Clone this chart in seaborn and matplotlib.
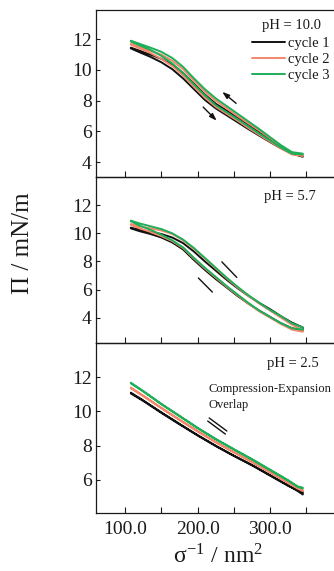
import matplotlib
matplotlib.use("Agg")
import matplotlib.pyplot as plt
from matplotlib.lines import Line2D
import seaborn as sns
import pandas as pd

sns.set_theme(style="ticks")
plt.rcParams['font.family'] = ['Liberation Serif', 'DejaVu Serif']
plt.rcParams['mathtext.fontset'] = 'stix'

cycles = ["cycle 1", "cycle 2", "cycle 3"]
colors = ["#111111", "#f4866a", "#1fae5a"]

# ---- pH 10.0 ----
x_a = [108, 120, 135, 150, 165, 180, 195, 210, 225, 240, 255, 270, 285, 300, 315, 330, 345]
a_c1_exp = [11.40, 11.15, 10.85, 10.50, 10.05, 9.45, 8.75, 8.05, 7.50, 7.05, 6.60, 6.15, 5.72, 5.30, 4.90, 4.55, 4.35]
a_c1_cmp = [11.45, 11.25, 11.00, 10.72, 10.35, 9.80, 9.10, 8.40, 7.80, 7.35, 6.90, 6.45, 5.95, 5.45, 4.95, 4.55, 4.40]
a_c2_exp = [11.65, 11.40, 11.10, 10.72, 10.25, 9.65, 8.90, 8.20, 7.60, 7.15, 6.70, 6.22, 5.77, 5.33, 4.90, 4.50, 4.40]
a_c2_cmp = [11.70, 11.50, 11.25, 11.00, 10.60, 10.05, 9.30, 8.60, 8.00, 7.50, 7.00, 6.52, 6.05, 5.55, 5.05, 4.60, 4.45]
a_c3_exp = [11.85, 11.60, 11.30, 10.92, 10.42, 9.80, 9.05, 8.35, 7.70, 7.25, 6.80, 6.32, 5.85, 5.40, 4.95, 4.55, 4.50]
a_c3_cmp = [11.90, 11.70, 11.45, 11.18, 10.78, 10.20, 9.45, 8.75, 8.15, 7.65, 7.15, 6.65, 6.15, 5.62, 5.10, 4.65, 4.55]

# ---- pH 5.7 ----
x_b = [108, 120, 135, 150, 165, 180, 195, 210, 225, 240, 255, 270, 285, 300, 315, 330, 345]
b_c1_exp = [10.35, 10.15, 9.95, 9.70, 9.35, 8.85, 8.10, 7.40, 6.75, 6.15, 5.55, 5.00, 4.50, 4.05, 3.60, 3.25, 3.10]
b_c1_cmp = [10.40, 10.25, 10.10, 9.95, 9.70, 9.30, 8.70, 8.00, 7.35, 6.70, 6.10, 5.55, 5.05, 4.60, 4.10, 3.65, 3.30]
b_c2_exp = [10.60, 10.35, 10.10, 9.80, 9.45, 8.95, 8.20, 7.50, 6.85, 6.20, 5.60, 5.00, 4.45, 4.00, 3.55, 3.15, 3.00]
b_c2_cmp = [10.65, 10.50, 10.35, 10.20, 9.95, 9.50, 8.90, 8.20, 7.50, 6.80, 6.15, 5.55, 5.00, 4.50, 4.00, 3.50, 3.10]
b_c3_exp = [10.85, 10.55, 10.25, 9.90, 9.50, 9.00, 8.25, 7.55, 6.90, 6.25, 5.65, 5.05, 4.50, 4.05, 3.60, 3.25, 3.15]
b_c3_cmp = [10.90, 10.70, 10.50, 10.30, 10.00, 9.55, 8.95, 8.25, 7.55, 6.85, 6.20, 5.60, 5.05, 4.55, 4.10, 3.60, 3.30]

# ---- pH 2.5 ----
x_c = [108, 125, 150, 175, 200, 225, 250, 275, 300, 325, 338, 345]
c_c1_exp = [11.10, 10.65, 9.95, 9.28, 8.62, 8.00, 7.42, 6.88, 6.28, 5.68, 5.35, 5.15]
c_c1_cmp = [11.05, 10.62, 9.92, 9.25, 8.60, 7.98, 7.40, 6.85, 6.25, 5.65, 5.40, 5.30]
c_c2_exp = [11.40, 10.93, 10.22, 9.53, 8.86, 8.22, 7.63, 7.07, 6.46, 5.85, 5.50, 5.35]
c_c2_cmp = [11.35, 10.90, 10.19, 9.50, 8.83, 8.20, 7.60, 7.04, 6.43, 5.82, 5.52, 5.40]
c_c3_exp = [11.68, 11.20, 10.45, 9.75, 9.05, 8.40, 7.80, 7.22, 6.60, 5.98, 5.60, 5.50]
c_c3_cmp = [11.64, 11.17, 10.42, 9.72, 9.02, 8.37, 7.77, 7.19, 6.57, 5.95, 5.62, 5.55]

panels = [
    ("pH = 10.0", x_a, [(a_c1_exp, a_c1_cmp), (a_c2_exp, a_c2_cmp), (a_c3_exp, a_c3_cmp)]),
    ("pH = 5.7", x_b, [(b_c1_exp, b_c1_cmp), (b_c2_exp, b_c2_cmp), (b_c3_exp, b_c3_cmp)]),
    ("pH = 2.5", x_c, [(c_c1_exp, c_c1_cmp), (c_c2_exp, c_c2_cmp), (c_c3_exp, c_c3_cmp)]),
]
ylims = [(3.03, 13.9), (2.2, 14.0), (4.07, 14.0)]
yticks = [[4, 6, 8, 10, 12], [4, 6, 8, 10, 12], [6, 8, 10, 12]]
xticks = [100, 150, 200, 250, 300, 350]
xticklabels = ["100.0", "", "200.0", "", "300.0", ""]

fig = plt.figure(figsize=(3.34, 5.71), dpi=100)
bounds = [(0.6900, 0.9825), (0.3993, 0.6900), (0.1016, 0.3993)]
axes = []
for (b0, b1) in bounds:
    ax = fig.add_axes([0.2874, b0, 1.0 - 0.2874, b1 - b0])
    ax.set_facecolor("none")
    axes.append(ax)

for i, (ax, (ph, xs, series)) in enumerate(zip(axes, panels)):
    for j, (exp, cmp_) in enumerate(series):
        df = pd.DataFrame({"x": xs + xs[::-1], "y": exp + cmp_[::-1]})
        sns.lineplot(data=df, x="x", y="y", sort=False, estimator=None,
                     color=colors[j], lw=1.4, ax=ax)
    ax.set_xlim(60, 388)
    ax.set_ylim(*ylims[i])
    ax.set_yticks(yticks[i])
    ax.set_yticklabels([str(t) for t in yticks[i]])
    ax.set_xticks(xticks)
    if i == 2:
        ax.set_xticklabels(xticklabels)
    else:
        ax.set_xticklabels([""] * len(xticks))
    ax.tick_params(axis="both", direction="in", labelsize=14, colors="#1a1a1a")
    ax.tick_params(axis="x", length=4, width=0.8, pad=6)
    ax.tick_params(axis="y", length=3, width=0.8, pad=3)
    for s in ["left", "bottom", "top"]:
        ax.spines[s].set_color("#1a1a1a")
        ax.spines[s].set_linewidth(0.9)
    ax.spines["right"].set_visible(False)
    ax.set_xlabel("")
    ax.set_ylabel("")

# pH annotations
axes[0].text(330, 12.91, "pH = 10.0", ha="center", va="center", fontsize=10.5, color="#1a1a1a")
axes[1].text(327.6, 12.64, "pH = 5.7", ha="center", va="center", fontsize=10.5, color="#1a1a1a")
axes[2].text(332, 12.82, "pH = 2.5", ha="center", va="center", fontsize=10.5, color="#1a1a1a")

# legend
handles = [Line2D([0], [0], color=c, lw=1.4) for c in colors]
leg = axes[0].legend(handles, cycles, loc="upper left", bbox_to_anchor=(0.655, 0.84),
                     frameon=False, fontsize=10.5, handlelength=2.3, handletextpad=0.15,
                     labelspacing=0.2, borderpad=0, borderaxespad=0)
for t in leg.get_texts():
    t.set_color("#1a1a1a")

# arrows
arrow_kw = dict(arrowstyle="-|>,head_length=0.35,head_width=0.12", color="#111111", lw=1.0)
axes[0].annotate("", xy=(231, 8.69), xytext=(256, 7.71), arrowprops=arrow_kw)
axes[0].annotate("", xy=(229, 6.57), xytext=(205, 7.71), arrowprops=arrow_kw)
axes[1].plot([233.4, 254.1], [7.97, 6.86], color="#111111", lw=1.0)
axes[1].plot([201.1, 220.4], [6.82, 5.82], color="#111111", lw=1.0)
axes[2].plot([216.0, 240.3], [9.62, 8.86], color="#111111", lw=1.0)
axes[2].plot([214.0, 238.3], [9.44, 8.68], color="#111111", lw=1.0)
axes[2].text(214.9, 11.3, "Compression-Expansion", ha="left", va="center", fontsize=9, color="#1a1a1a")
axes[2].text(214.9, 10.38, "Overlap", ha="left", va="center", fontsize=9, color="#1a1a1a")

fig.text(0.069, 0.574, "Π / mN/m", rotation=90, ha="center", va="center", fontsize=18, color="#1a1a1a")
fig.text(0.654, 0.025, r"σ$^{\mathregular{-1}}$ / nm$^{\mathregular{2}}$", ha="center", va="center",
         fontsize=17, color="#1a1a1a")

fig.savefig("out.png", dpi=100)
